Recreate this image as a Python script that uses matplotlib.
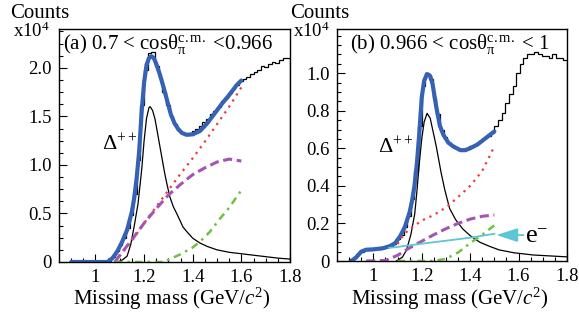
import numpy as np
import matplotlib
matplotlib.use("Agg")
from matplotlib import pyplot as plt

plt.rcParams['font.family'] = ['Liberation Serif', 'DejaVu Serif']
plt.rcParams['mathtext.fontset'] = 'custom'
plt.rcParams['mathtext.rm'] = 'Liberation Serif'
plt.rcParams['mathtext.it'] = 'Liberation Serif:italic'
plt.rcParams['mathtext.bf'] = 'Liberation Serif:bold'

# histogram bins (missing mass, GeV/c^2), counts in units of 10^4
bin_edges = 0.9 + 0.015 * np.arange(61)

hist_a = [0, 0, 0, 0, 0, 0, 0, 0, 0, 0,
          0.01, 0.05, 0.11, 0.18, 0.25, 0.35, 0.48, 0.70, 1.05, 1.62,
          1.98, 2.15, 2.16, 2.02, 1.90, 1.75, 1.62, 1.50, 1.42, 1.36,
          1.33, 1.32, 1.33, 1.35, 1.37, 1.40, 1.44, 1.47, 1.52, 1.56,
          1.60, 1.66, 1.69, 1.74, 1.78, 1.82, 1.86, 1.89, 1.91, 1.94,
          1.96, 1.98, 2.02, 2.01, 2.04, 2.06, 2.05, 2.08, 2.10, 2.10]

hist_b = [0.01, 0.02, 0.035, 0.05, 0.06, 0.06, 0.062, 0.064, 0.066, 0.068,
          0.072, 0.08, 0.093, 0.115, 0.14, 0.18, 0.24, 0.33, 0.48, 0.72,
          0.93, 1.0, 0.97, 0.87, 0.78, 0.70, 0.66, 0.63, 0.61, 0.60,
          0.59, 0.59, 0.60, 0.61, 0.62, 0.63, 0.64, 0.655, 0.665, 0.68,
          0.72, 0.75, 0.79, 0.84, 0.89, 0.93, 1.00, 1.05, 1.08, 1.10,
          1.10, 1.11, 1.10, 1.09, 1.09, 1.08, 1.10, 1.08, 1.08, 1.07]

# total fit
fit_a_x = [0.90, 1.05, 1.07, 1.09, 1.11, 1.13, 1.15, 1.16, 1.17, 1.18, 1.19, 1.20,
           1.21, 1.22, 1.23, 1.24, 1.25, 1.265, 1.28, 1.295, 1.31, 1.325, 1.34,
           1.355, 1.375, 1.40, 1.43, 1.46, 1.49, 1.52, 1.55, 1.58, 1.60]
fit_a_y = [0, 0, 0.04, 0.11, 0.21, 0.33, 0.52, 0.67, 0.88, 1.15, 1.55, 1.85,
           2.03, 2.10, 2.12, 2.10, 2.04, 1.93, 1.80, 1.66, 1.52, 1.43, 1.37,
           1.33, 1.31, 1.315, 1.35, 1.43, 1.53, 1.63, 1.72, 1.82, 1.87]

fit_b_x = [0.91, 0.93, 0.95, 0.97, 1.00, 1.04, 1.07, 1.09, 1.11, 1.13, 1.15, 1.16,
           1.17, 1.18, 1.19, 1.20, 1.21, 1.222, 1.235, 1.245, 1.26, 1.275, 1.29,
           1.31, 1.33, 1.36, 1.38, 1.40, 1.43, 1.46, 1.49, 1.50]
fit_b_y = [0.0, 0.02, 0.05, 0.06, 0.062, 0.068, 0.08, 0.095, 0.13, 0.18, 0.26, 0.32,
           0.40, 0.52, 0.68, 0.87, 0.96, 0.995, 0.985, 0.94, 0.82, 0.72, 0.67,
           0.63, 0.61, 0.59, 0.59, 0.60, 0.62, 0.65, 0.68, 0.69]

# Delta++ component
delta_a_x = [1.09, 1.11, 1.13, 1.145, 1.16, 1.175, 1.19, 1.20, 1.21, 1.22, 1.225,
             1.235, 1.245, 1.255, 1.265, 1.275, 1.285, 1.295, 1.306, 1.32, 1.334,
             1.36, 1.38, 1.40, 1.43, 1.46, 1.50, 1.55, 1.60, 1.65, 1.70, 1.75, 1.80]
delta_a_y = [0, 0.02, 0.06, 0.18, 0.38, 0.60, 0.95, 1.25, 1.48, 1.59, 1.60,
             1.56, 1.47, 1.33, 1.19, 1.05, 0.91, 0.79, 0.67, 0.57, 0.50,
             0.36, 0.30, 0.245, 0.195, 0.16, 0.125, 0.10, 0.085, 0.07, 0.055, 0.04, 0.03]

delta_b_x = [1.095, 1.12, 1.137, 1.155, 1.171, 1.18, 1.19, 1.20, 1.21, 1.222, 1.235,
             1.245, 1.26, 1.27, 1.28, 1.295, 1.315, 1.34, 1.37, 1.40, 1.44, 1.48,
             1.52, 1.58, 1.66, 1.73, 1.80]
delta_b_y = [0, 0.02, 0.058, 0.14, 0.25, 0.37, 0.52, 0.65, 0.74, 0.786, 0.76,
             0.70, 0.61, 0.54, 0.47, 0.38, 0.28, 0.22, 0.17, 0.135, 0.10, 0.078,
             0.059, 0.044, 0.032, 0.027, 0.022]

# background components
red_a_x = [1.08, 1.10, 1.15, 1.20, 1.25, 1.30, 1.35, 1.40, 1.45, 1.50, 1.55, 1.60]
red_a_y = [0, 0.06, 0.22, 0.40, 0.57, 0.74, 0.91, 1.07, 1.24, 1.42, 1.60, 1.80]
mag_a_x = [1.08, 1.10, 1.15, 1.20, 1.25, 1.30, 1.35, 1.40, 1.45, 1.50, 1.55, 1.60]
mag_a_y = [0, 0.07, 0.23, 0.40, 0.55, 0.69, 0.80, 0.90, 0.97, 1.03, 1.06, 1.04]
grn_a_x = [1.08, 1.28, 1.306, 1.35, 1.40, 1.43, 1.47, 1.51, 1.55, 1.60]
grn_a_y = [0, 0, 0.03, 0.08, 0.15, 0.21, 0.31, 0.44, 0.56, 0.74]

red_b_x = [1.10, 1.125, 1.15, 1.20, 1.25, 1.30, 1.35, 1.40, 1.45, 1.50]
red_b_y = [0.09, 0.14, 0.17, 0.215, 0.245, 0.285, 0.34, 0.40, 0.48, 0.61]
mag_b_x = [0.97, 1.05, 1.10, 1.15, 1.20, 1.25, 1.30, 1.35, 1.40, 1.45, 1.50]
mag_b_y = [0, 0.003, 0.03, 0.07, 0.105, 0.14, 0.172, 0.20, 0.223, 0.238, 0.245]
grn_b_x = [1.10, 1.25, 1.30, 1.35, 1.40, 1.45, 1.50]
grn_b_y = [0, 0, 0.012, 0.045, 0.095, 0.14, 0.19]
ele_b_x = [1.065, 1.10, 1.20, 1.30, 1.40, 1.50]
ele_b_y = [0.07, 0.075, 0.092, 0.108, 0.124, 0.145]

W, H = 579, 320
BLUE = '#3562b4'
RED = '#f03a3a'
MAG = '#a455b4'
GRN = '#72c043'
CYAN = '#5cc6d4'


def frac(px, py):
    return px / W, 1 - py / H


def style_axes(ax, ymax, ymajor, yticklabels):
    ax.set_xlim(0.85, 1.8)
    ax.set_ylim(0, ymax)
    ax.set_xticks([1.0, 1.2, 1.4, 1.6, 1.8])
    ax.set_xticklabels(['1', '1.2', '1.4', '1.6', '1.8'])
    ax.set_xticks(np.arange(0.9, 1.8, 0.05), minor=True)
    ax.set_yticks(ymajor)
    ax.set_yticklabels(yticklabels)
    ax.set_yticks(np.arange(0, ymax, ymajor[1] / 4), minor=True)
    ax.tick_params(which='both', direction='in', top=False, right=False,
                   labelsize=13.5, width=0.8)
    ax.tick_params(which='major', length=6, pad=5)
    ax.tick_params(which='minor', length=3)
    for s in ax.spines.values():
        s.set_linewidth(1.0)


fig = plt.figure(figsize=(W / 100, H / 100), dpi=100)

# panel (a)
ax = fig.add_axes([59 / W, 1 - 262 / H, 231 / W, 233 / H])
ax.stairs(hist_a, bin_edges, color='black', lw=0.9)
ax.plot(fit_a_x, fit_a_y, color=BLUE, lw=3.0, solid_capstyle='round')
ax.plot(delta_a_x, delta_a_y, color='black', lw=0.9)
ax.plot(red_a_x, red_a_y, color=RED, lw=1.6, ls=(0, (1, 2.2)))
ax.plot(mag_a_x, mag_a_y, color=MAG, lw=2.2, ls=(0, (3, 1.5)))
ax.plot(grn_a_x, grn_a_y, color=GRN, lw=1.8, ls=(0, (3, 2, 1, 2)))
style_axes(ax, 2.4, [0, 0.5, 1.0, 1.5, 2.0], ['0', '0.5', '1.0', '1.5', '2.0'])

fig.text(*frac(63, 49), r'(a) 0.7 < cos$\mathrm{\theta_{\pi}^{c.m.}}$ <0.966',
         fontsize=15, va='baseline', ha='left')
fig.text(*frac(102, 150), r'$\mathrm{\Delta^{++}}$', fontsize=16, va='baseline')

# panel (b)
bx = fig.add_axes([337 / W, 1 - 261 / H, 230 / W, 232 / H])
bx.stairs(hist_b, bin_edges, color='black', lw=0.9)
bx.plot(fit_b_x, fit_b_y, color=BLUE, lw=3.0, solid_capstyle='round')
bx.plot(delta_b_x, delta_b_y, color='black', lw=0.9)
bx.plot(red_b_x, red_b_y, color=RED, lw=1.6, ls=(0, (1, 2.2)))
bx.plot(mag_b_x, mag_b_y, color=MAG, lw=2.2, ls=(0, (3, 1.5)))
bx.plot(grn_b_x, grn_b_y, color=GRN, lw=1.8, ls=(0, (3, 2, 1, 2)))
bx.plot(ele_b_x, ele_b_y, color=CYAN, lw=1.3)
bx.annotate('', xy=(1.508, 0.138), xytext=(1.62, 0.138),
            arrowprops=dict(arrowstyle='-|>,head_length=1.3,head_width=0.42',
                            color=CYAN, lw=1.3, mutation_scale=10,
                            shrinkA=0, shrinkB=0))
style_axes(bx, 1.235, [0, 0.2, 0.4, 0.6, 0.8, 1.0],
           ['0', '0.2', '0.4', '0.6', '0.8', '1.0'])

fig.text(*frac(350, 49), r'(b) 0.966 < cos$\mathrm{\theta_{\pi}^{c.m.}}$ < 1',
         fontsize=15, va='baseline', ha='left')
fig.text(*frac(378, 153), r'$\mathrm{\Delta^{++}}$', fontsize=16, va='baseline')
fig.text(*frac(525, 243), r'e$^{-}$', fontsize=19, va='baseline')

# axis titles
for cx in (172, 450):
    fig.text(*frac(cx, 305), r'Missing mass (GeV/$c^{2}$)', fontsize=15,
             ha='center', va='baseline')
for lx in (10, 290):
    fig.text(*frac(lx, 18), 'Counts', fontsize=15, va='baseline')
for lx in (13, 293):
    fig.text(*frac(lx, 37), r'x10$^{4}$', fontsize=13.5, va='baseline')

fig.savefig('out.png', dpi=100)
